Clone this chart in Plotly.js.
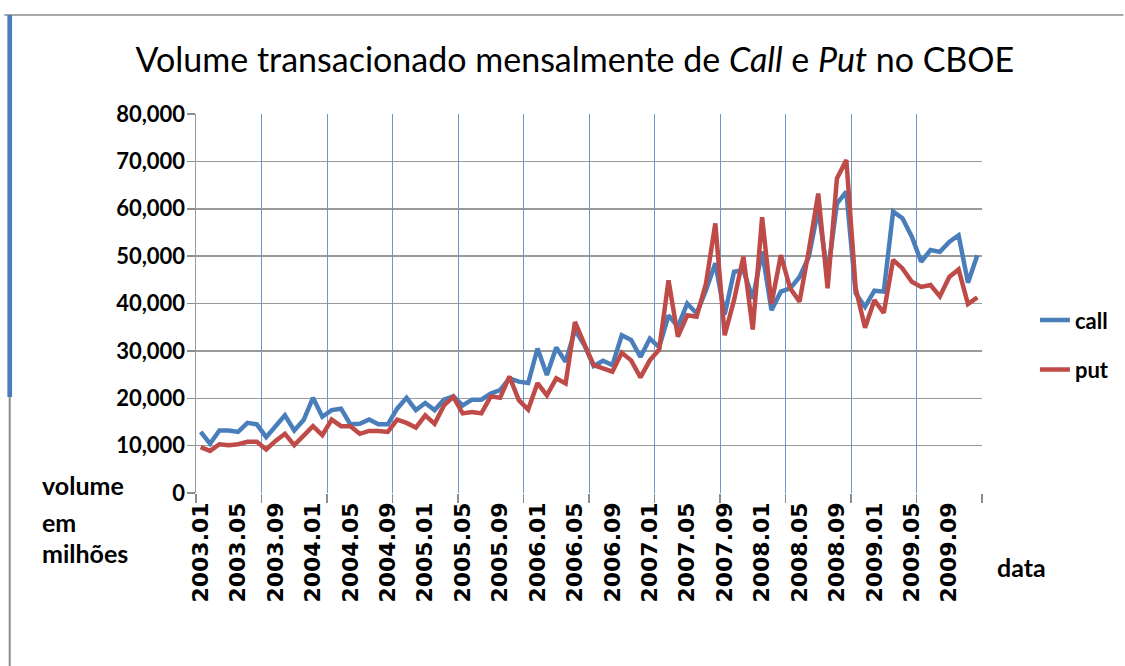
<!DOCTYPE html>
<html><head><meta charset="utf-8">
<script src="https://cdn.plot.ly/plotly-3.0.1.min.js"></script>
<style>html,body{margin:0;padding:0;background:#fff;}#chart{width:1125px;height:666px;}</style>
</head><body><div id="chart"></div>
<script>
// Monthly volume Jan 2003 .. Dec 2009
const years = ["2003","2004","2005","2006","2007","2008","2009"];
const monthNums = ["01","02","03","04","05","06","07","08","09","10","11","12"];
const months = [];
years.forEach(y => monthNums.forEach(m => months.push(y + "." + m)));

const callVol = [12900,10400,13200,13200,12900,14800,14500,11800,14100,16400,
  13200,15400,20100,16100,17500,17800,14500,14600,15500,14500,
  14500,17800,20100,17500,19000,17500,19700,20400,18500,19700,
  19700,21000,21700,24200,23500,23200,30500,24900,30700,27700,
  34400,31200,26800,27900,27000,33300,32300,28700,32600,30800,
  37500,35100,40000,37900,42800,48500,37700,46700,47000,41000,
  51000,38600,42500,43200,45600,49900,60000,46000,61100,63600,
  42100,39300,42700,42500,59400,58000,54100,48800,51300,50900,
  53000,54400,44400,50200];
const putVol = [9700,8900,10300,10100,10300,10800,10800,9200,11000,12500,
  10100,12200,14100,12200,15500,14100,14100,12500,13100,13100,
  12900,15500,14800,13800,16400,14600,18500,20300,16800,17100,
  16800,20400,20100,24600,19600,17600,23200,20600,24200,23100,
  36100,31500,27000,26300,25600,29600,28000,24400,28000,30300,
  44900,33000,37500,37200,44200,56900,33300,40700,49900,34500,
  58200,39900,50200,43200,40400,51300,63200,43200,66400,70300,
  43200,34900,40700,38000,49200,47400,44600,43500,43900,41500,
  45600,47200,39900,41300];

const tickLabels = ["2003.01","2003.05","2003.09","2004.01","2004.05","2004.09","2005.01","2005.05","2005.09",
  "2006.01","2006.05","2006.09","2007.01","2007.05","2007.09","2008.01","2008.05","2008.09",
  "2009.01","2009.05","2009.09"];
const gridPos = [-0.5,6.5,13.5,20.5,27.5,34.5,41.5,48.5,55.5,62.5,69.5,76.5,83.5];

const F = "Lato, 'Open Sans', sans-serif";
const FT = "'DejaVu Sans', sans-serif";

const traces = [
  {x: months, y: callVol, type:'scatter', mode:'lines', name:'call',
   line:{color:'#4a7ebb', width:4.5}, legendgroup:'a'},
  {x: months, y: putVol, type:'scatter', mode:'lines', name:'put',
   line:{color:'#be4b48', width:4.5}, legendgroup:'b'},
  {x: [], y: [], xaxis:'x2', type:'scatter', mode:'lines', showlegend:false, hoverinfo:'skip'}
];

const layout = {
  width:1125, height:666,
  margin:{l:196, r:142, t:114, b:173},
  paper_bgcolor:'#fff', plot_bgcolor:'#fff',
  title:{text:'Volume transacionado mensalmente de <i>Call</i> e <i>Put</i> no CBOE',
    font:{family:F, size:34, color:'#000'}, x:0.511, xanchor:'center', y:0.91, yanchor:'middle'},
  xaxis:{type:'category', categoryorder:'array', categoryarray: months,
    range:[-0.5, 83.5], tickmode:'array', tickvals: tickLabels, ticktext: tickLabels,
    tickangle:-90, ticks:'', showgrid:false, zeroline:false, showline:false,
    tickfont:{family:FT, size:22, color:'#000', weight:'bold'}, ticklabelstandoff:4},
  xaxis2:{overlaying:'x', anchor:'y', range:[-0.5,83.5], tickmode:'array', tickvals: gridPos,
    showticklabels:false, ticks:'outside', ticklen:9, tickcolor:'#8c8c8c', tickwidth:1.5,
    showgrid:true, gridcolor:'#6b97cc', gridwidth:1, zeroline:false, showline:false},
  yaxis:{range:[0,80000], dtick:10000, tickformat:',d', ticks:'outside', ticklen:8,
    tickcolor:'#8c8c8c', tickwidth:1.5, showgrid:true, gridcolor:'#9a9a9a', gridwidth:1.5,
    zeroline:false, showline:true, linecolor:'#9a9a9a', linewidth:1.5,
    tickfont:{family:F, size:22, color:'#000', weight:'bold'}, ticklabelstandoff:-3},
  showlegend:true,
  legend:{x:1.066, y:0.39, xanchor:'left', yanchor:'middle', traceorder:'grouped', tracegroupgap:18,
    font:{family:F, size:22, color:'#000', weight:'bold'}, bgcolor:'rgba(0,0,0,0)'},
  annotations:[
    {xref:'paper', yref:'paper', x:-0.198, y:0.02, xanchor:'left', yanchor:'middle', showarrow:false,
     text:'volume', font:{family:F, size:25, color:'#000', weight:'bold'}},
    {xref:'paper', yref:'paper', x:-0.198, y:-0.077, xanchor:'left', yanchor:'middle', showarrow:false,
     text:'em', font:{family:F, size:25, color:'#000', weight:'bold'}},
    {xref:'paper', yref:'paper', x:-0.198, y:-0.159, xanchor:'left', yanchor:'middle', showarrow:false,
     text:'milhões', font:{family:F, size:25, color:'#000', weight:'bold'}},
    {xref:'paper', yref:'paper', x:1.016, y:-0.195, xanchor:'left', yanchor:'middle', showarrow:false,
     text:'data', font:{family:F, size:25, color:'#000', weight:'bold'}}
  ],
  shapes:[
    {type:'line', xref:'paper', yref:'paper', x0:-0.244, x1:1.18, y0:1.261, y1:1.261,
     line:{color:'#8c8c8c', width:1.5}},
    {type:'rect', xref:'paper', yref:'paper', x0:-0.240, x1:-0.234, y0:1.261, y1:0.253,
     fillcolor:'#4a7ebb', line:{width:0}},
    {type:'line', xref:'paper', yref:'paper', x0:-0.237, x1:-0.237, y0:0.253, y1:-0.46,
     line:{color:'#8c8c8c', width:2}}
  ]
};

Plotly.newPlot('chart', traces, layout, {displayModeBar:false, staticPlot:true});
</script>
</body></html>
